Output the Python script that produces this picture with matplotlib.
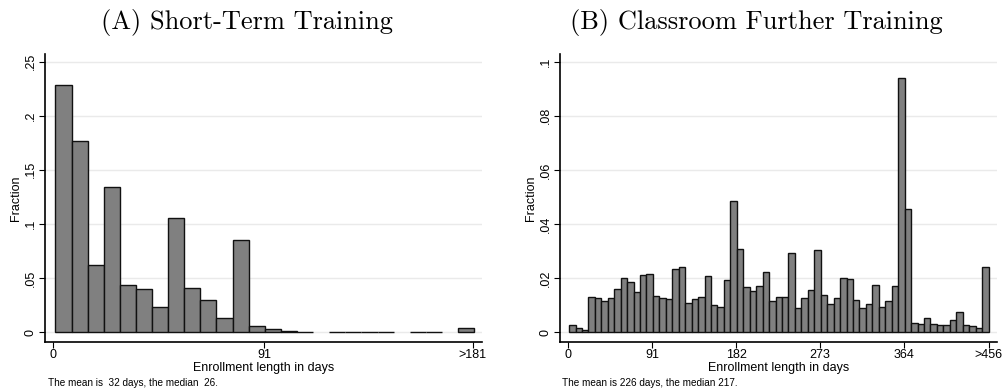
import matplotlib
matplotlib.use("Agg")
import matplotlib.pyplot as plt
import numpy as np

plt.rcParams['font.family'] = ['Liberation Sans', 'DejaVu Sans']

# (A) short-term training: 26 weekly bins, last one is ">181"
frac_a = [0.2281, 0.1770, 0.0619, 0.1339, 0.0440, 0.0400, 0.0237, 0.1053,
          0.0413, 0.0299, 0.0132, 0.0856, 0.0058, 0.0028, 0.0015, 0.0006,
          0.0, 0.0004, 0.0004, 0.0004, 0.0004, 0.0, 0.0004, 0.0004, 0.0, 0.0037]
# (B) classroom further training: 65 weekly bins, last one is ">456"
frac_b = [0.0027, 0.0014, 0.0010, 0.0132, 0.0128, 0.0117, 0.0128, 0.0159,
          0.0201, 0.0186, 0.0148, 0.0213, 0.0217, 0.0135, 0.0126, 0.0122,
          0.0232, 0.0241, 0.0107, 0.0122, 0.0132, 0.0207, 0.0100, 0.0094,
          0.0193, 0.0486, 0.0308, 0.0169, 0.0151, 0.0172, 0.0222, 0.0115,
          0.0132, 0.0132, 0.0294, 0.0090, 0.0128, 0.0155, 0.0304, 0.0138,
          0.0103, 0.0126, 0.0201, 0.0197, 0.0118, 0.0090, 0.0103, 0.0176,
          0.0094, 0.0115, 0.0170, 0.0938, 0.0457, 0.0036, 0.0032, 0.0052,
          0.0032, 0.0028, 0.0028, 0.0046, 0.0076, 0.0026, 0.0022, 0.0015,
          0.0241]

xticks_a = [0, 91, 181]
xlabels_a = ['0', '91', '>181']
yticks_a = [0, 0.05, 0.1, 0.15, 0.2, 0.25]
ylabels_a = ['0', '.05', '.1', '.15', '.2', '.25']

xticks_b = [0, 91, 182, 273, 364, 456]
xlabels_b = ['0', '91', '182', '273', '364', '>456']
yticks_b = [0, 0.02, 0.04, 0.06, 0.08, 0.1]
ylabels_b = ['0', '.02', '.04', '.06', '.08', '.1']

titles = ['(A) Short-Term Training', '(B) Classroom Further Training']
notes = ['The mean is  32 days, the median  26.',
         'The mean is 226 days, the median 217.']

W, H = 1002, 391
fig = plt.figure(figsize=(W / 100, H / 100), dpi=100)


def panel(left_px, right_px, frac, start, width, xt, xl, yt, yl, xlim, ylim):
    ax = fig.add_axes([left_px / W, 1 - 342 / H, (right_px - left_px) / W, (342 - 54) / H])
    frac = np.array(frac)
    lefts = start + width * np.arange(len(frac))
    keep = frac > 0
    ax.bar(lefts[keep], frac[keep], width=width, align='edge',
           color='#808080', edgecolor='#111111', linewidth=1.0, zorder=3)
    ax.set_xlim(*xlim)
    ax.set_ylim(*ylim)
    ax.set_yticks(yt)
    ax.set_yticklabels(yl, rotation=90, va='center')
    ax.set_xticks(xt)
    ax.set_xticklabels(xl)
    ax.yaxis.grid(True, color='#eaeaea', linewidth=1.0, zorder=0)
    ax.set_axisbelow(True)
    for s in ['top', 'right']:
        ax.spines[s].set_visible(False)
    for s in ['left', 'bottom']:
        ax.spines[s].set_linewidth(1.2)
        ax.spines[s].set_color('black')
    ax.tick_params(axis='both', direction='out', length=4.5, width=0.8,
                   labelsize=9, colors='black')
    ax.tick_params(axis='y', pad=1.5)
    ax.tick_params(axis='x', pad=0.3)
    ax.set_ylabel('Fraction', fontsize=9)
    ax.yaxis.set_label_coords(-23 / (right_px - left_px), 0.5)
    ax.set_xlabel('Enrollment length in days', fontsize=9)
    ax.xaxis.set_label_coords(0.5, -20 / 288)
    return ax


panel(45, 482, frac_a, 0.9, 6.95, xticks_a, xlabels_a, yticks_a, ylabels_a,
      (-3.6, 185), (-0.009, 0.257))
panel(560.3, 997, frac_b, 0.8, 7.0, xticks_b, xlabels_b, yticks_b, ylabels_b,
      (-8.7, 465), (-0.0036, 0.1028))

fig.text(247 / W, 1 - 23 / H, titles[0], fontfamily='cmr10', fontsize=19,
         ha='center', va='center')
fig.text(756 / W, 1 - 23 / H, titles[1], fontfamily='cmr10', fontsize=19,
         ha='center', va='center')
fig.text(48 / W, 1 - 383.5 / H, notes[0], fontsize=7.2, ha='left', va='center')
fig.text(562 / W, 1 - 383.5 / H, notes[1], fontsize=7.2, ha='left', va='center')

fig.savefig('out.png', dpi=100)
